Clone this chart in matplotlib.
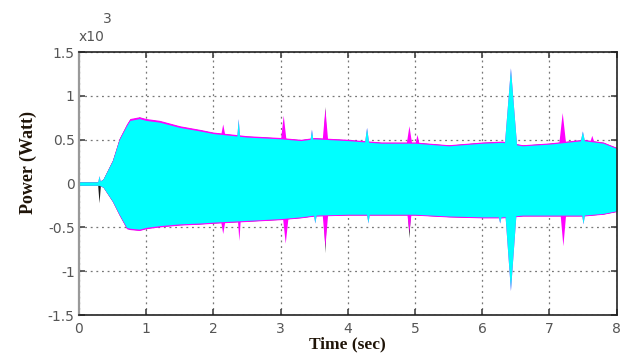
import numpy as np
import matplotlib
matplotlib.use("Agg")
import matplotlib.pyplot as plt

# ---------------- data (values in x10^3 W) ----------------
t_knots = [0.0, 0.30, 0.36, 0.50, 0.60, 0.71, 0.76, 0.90, 1.0, 1.2, 1.5, 1.8, 2.0, 2.5,
           3.0, 3.3, 3.5, 4.0, 4.5, 5.0, 5.5, 6.0, 6.3, 6.6, 7.0, 7.5, 7.8, 8.0]
upper_knots = [0.02, 0.02, 0.05, 0.26, 0.50, 0.66, 0.72, 0.74, 0.72, 0.70, 0.64, 0.60, 0.57, 0.53,
               0.51, 0.49, 0.51, 0.49, 0.46, 0.46, 0.43, 0.46, 0.47, 0.43, 0.45, 0.49, 0.46, 0.40]
lower_knots = [-0.02, -0.02, -0.04, -0.20, -0.35, -0.50, -0.51, -0.52, -0.50, -0.48, -0.46, -0.45, -0.44, -0.42,
               -0.40, -0.38, -0.36, -0.35, -0.35, -0.35, -0.37, -0.38, -0.38, -0.36, -0.36, -0.36, -0.34, -0.31]

# spikes: time (s), peak value, half-width (s)
cyan_up_t = [0.30, 2.37, 3.46, 4.28, 6.42, 7.49]
cyan_up_v = [0.09, 0.74, 0.62, 0.64, 1.32, 0.60]
cyan_up_w = [0.02, 0.02, 0.02, 0.03, 0.09, 0.03]
cyan_dn_t = [3.51, 4.30, 6.26, 6.42, 7.50]
cyan_dn_v = [-0.45, -0.45, -0.45, -1.22, -0.46]
cyan_dn_w = [0.02, 0.02, 0.02, 0.08, 0.02]

magenta_up_t = [2.14, 3.04, 3.66, 4.91, 5.03, 7.19, 7.63]
magenta_up_v = [0.68, 0.78, 0.86, 0.66, 0.56, 0.81, 0.55]
magenta_up_w = [0.03, 0.04, 0.04, 0.04, 0.03, 0.05, 0.03]
magenta_dn_t = [2.14, 2.38, 3.07, 3.66, 4.91, 7.20]
magenta_dn_v = [-0.57, -0.65, -0.68, -0.72, -0.55, -0.71]
magenta_dn_w = [0.03, 0.02, 0.04, 0.04, 0.03, 0.04]

black_up_t = [0.90, 3.66]
black_up_v = [0.76, 0.88]
black_up_w = [0.03, 0.02]
black_dn_t = [0.30, 3.66, 4.91]
black_dn_v = [-0.22, -0.79, -0.62]
black_dn_w = [0.02, 0.02, 0.02]

x_ticks = [0, 1, 2, 3, 4, 5, 6, 7, 8]
y_ticks = [-1.5, -1.0, -0.5, 0.0, 0.5, 1.0, 1.5]
y_tick_labels = ["-1.5", "-1", "-0.5", "0", "0.5", "1", "1.5"]

# ---------------- build envelopes ----------------
grid = np.linspace(0, 8, 8001)


def envelope(knots_v, spk_t, spk_v, spk_w, upper, scale=1.0):
    env = np.interp(grid, t_knots, knots_v) * scale
    for ts, vs, w in zip(spk_t, spk_v, spk_w):
        base = np.interp(ts, t_knots, knots_v)
        d = np.abs(grid - ts) / w
        prof = vs + (base - vs) * np.clip(d, 0, 1)
        inside = d < 1
        if upper:
            env = np.where(inside, np.maximum(env, prof), env)
        else:
            env = np.where(inside, np.minimum(env, prof), env)
    return env


cy_up = envelope(upper_knots, cyan_up_t, cyan_up_v, cyan_up_w, True)
cy_dn = envelope(lower_knots, cyan_dn_t, cyan_dn_v, cyan_dn_w, False)
mg_up = envelope(upper_knots, cyan_up_t + magenta_up_t, cyan_up_v + magenta_up_v,
                 cyan_up_w + magenta_up_w, True, 1.03)
mg_dn = envelope(lower_knots, cyan_dn_t + magenta_dn_t, cyan_dn_v + magenta_dn_v,
                 cyan_dn_w + magenta_dn_w, False, 1.03)
bk_up = envelope(upper_knots, black_up_t, black_up_v, black_up_w, True, 1.02)
bk_dn = envelope(lower_knots, black_dn_t, black_dn_v, black_dn_w, False, 1.02)

# ---------------- figure ----------------
fig = plt.figure(figsize=(6.21, 3.54), dpi=100)
ax = fig.add_axes([0.127, 0.110, 0.866, 0.743])

ax.fill_between(grid, bk_dn, bk_up, color="#1a1a1a", lw=0, zorder=3)
ax.fill_between(grid, mg_dn, mg_up, color="#ff00ff", lw=0, zorder=3)
ax.fill_between(grid, cy_dn, cy_up, color="#00ffff", lw=0, zorder=3)

ax.set_xlim(0, 8)
ax.set_ylim(-1.5, 1.5)
ax.set_xticks(x_ticks)
ax.set_yticks(y_ticks)
ax.set_yticklabels(y_tick_labels)

for lab in ax.get_xticklabels() + ax.get_yticklabels():
    lab.set_fontfamily("DejaVu Sans")
    lab.set_fontsize(10)
    lab.set_color("#555555")

ax.tick_params(direction="in", length=4.5, width=1.2, color="#444444",
               top=True, right=True)
ax.tick_params(axis="x", pad=5)
ax.tick_params(axis="y", pad=3)

ax.set_axisbelow(True)
ax.grid(True, linestyle=(0, (1.5, 3)), color="#777777", linewidth=0.9)
for s in ["top", "bottom", "right"]:
    ax.spines[s].set_color("#222222")
    ax.spines[s].set_linewidth(1.2)
    ax.spines[s].set_zorder(4)
ax.spines["left"].set_color("#999999")
ax.spines["left"].set_linewidth(1.6)
ax.spines["left"].set_zorder(4)

label_font = dict(family="Liberation Serif", weight="bold", color="#1f1408")
ax.set_xlabel("Time (sec)", fontsize=12.5, labelpad=0, **label_font)
ax.set_ylabel("Power (Watt)", fontsize=13, **label_font)
ax.yaxis.set_label_coords(-0.078, 0.58)

fig.text(0.126, 0.895, "x10", fontsize=10, color="#555555",
         family="DejaVu Sans", ha="left", va="center")
fig.text(0.166, 0.945, "3", fontsize=10, color="#555555",
         family="DejaVu Sans", ha="left", va="center")

fig.savefig("out.png", dpi=100)
